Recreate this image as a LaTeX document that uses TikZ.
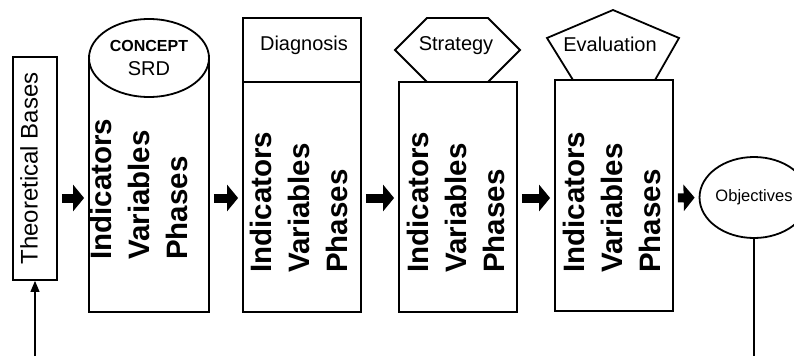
\documentclass[tikz,border=0pt]{standalone}
\usepackage{fontspec}
\setmainfont{Liberation Sans}
\usetikzlibrary{shapes.geometric,arrows.meta}
\tikzset{
  box/.style={draw,line width=1.8pt,inner sep=0pt},
  ivp/.style={rotate=90,anchor=north west,inner sep=0pt,align=left,
    font=\fontsize{29.5}{38}\selectfont\bfseries},
  toplabel/.style={inner sep=0pt,font=\fontsize{20}{24}\selectfont},
  blockarr/.style={line width=9pt,-{Triangle[width=26pt,length=11pt]},
    shorten <=4pt,shorten >=4pt}
}
\begin{document}
\begin{tikzpicture}[x=1pt,y=-1pt]
\useasboundingbox (0,0) rectangle (794,356);
\coordinate (row) at (0,198);
% theoretical bases, fed from below
\node[box,rotate=90,minimum width=223pt,minimum height=44pt,
  font=\fontsize{24}{28}\selectfont,text height=17.5pt,text depth=12.5pt]
  (tb) at (35,168.5) {Theoretical Bases};
\coordinate (tbin) at (35,356);
\draw[line width=1.2pt,-{Triangle[width=9pt,length=11pt]}] (tbin) -- (tb.west);
% concept cylinder
\node[box,minimum width=120pt,minimum height=256pt] (cyl) at (149,184) {};
\node[box,ellipse,fill=white,minimum width=120pt,minimum height=78pt,
  align=center,font=\fontsize{20}{24}\selectfont] (concept) at (149,58)
  {{\fontsize{16}{16}\selectfont\bfseries CONCEPT}\\SRD};
% diagnosis
\node[box,minimum width=118pt,minimum height=230pt] (diag) at (302,197) {};
\node[box,toplabel,minimum width=118pt,minimum height=64pt] (diagtop) at (302,50) {};
\node[toplabel] (diaglbl) at (304,45) {Diagnosis};
% strategy
\node[box,minimum width=118pt,minimum height=230pt] (strat) at (458,197) {};
\draw[line width=1.8pt] (395,50) -- (427,18) -- (488,18) -- (520,50) -- (488,82) -- (427,82) -- cycle;
\node[toplabel] (strattop) at (456,46) {Strategy};
% evaluation
\node[box,minimum width=118pt,minimum height=231pt] (eval) at (614,195.5) {};
\draw[line width=1.8pt] (613,10) -- (679,38) -- (655,80) -- (573,80) -- (547,38) -- cycle;
\node[toplabel] (evaltop) at (610,44) {Evaluation};
% indicators / variables / phases in each column
\foreach \x/\y/\n in {90/260/a,250/273/b,407/273/c,563/273/d}
  \node[ivp] (ivp\n) at (\x,\y) {Indicators\\Variables\\Phases};
% objectives, leaving downwards
\node[box,ellipse,minimum width=96pt,minimum height=81pt,
  font=\fontsize{16.5}{18}\selectfont] (obj) at (754,197.5) {Objectives};
\coordinate (objout) at (754,356);
\draw[line width=1.2pt] (obj.south) -- (objout);
% block arrows
\draw[blockarr] (tb.south |- row) -- (cyl.west |- row);
\draw[blockarr] (cyl.east |- row) -- (diag.west |- row);
\draw[blockarr] (diag.east |- row) -- (strat.west |- row);
\draw[blockarr] (strat.east |- row) -- (eval.west |- row);
\draw[blockarr] (eval.east |- row) -- (obj.west);
\end{tikzpicture}
\end{document}
